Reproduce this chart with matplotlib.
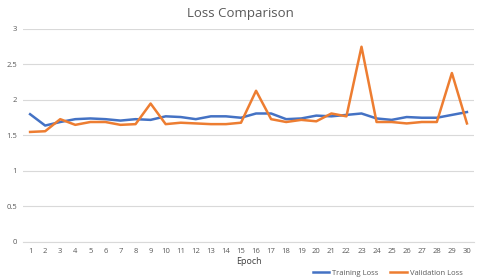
import numpy as np
import matplotlib.pyplot as plt

epochs = list(range(1, 31))
train_loss = [1.80, 1.64, 1.69, 1.73, 1.74, 1.73, 1.71, 1.73, 1.72, 1.77,
              1.76, 1.73, 1.77, 1.77, 1.75, 1.81, 1.81, 1.73, 1.74, 1.78,
              1.77, 1.79, 1.81, 1.74, 1.72, 1.76, 1.75, 1.75, 1.79, 1.83]
val_loss = [1.55, 1.56, 1.73, 1.65, 1.69, 1.69, 1.65, 1.66, 1.95, 1.66,
            1.68, 1.67, 1.66, 1.66, 1.68, 2.13, 1.73, 1.69, 1.72, 1.70,
            1.81, 1.77, 2.75, 1.69, 1.69, 1.67, 1.69, 1.69, 2.38, 1.67]
y_ticks = [0, 0.5, 1, 1.5, 2, 2.5, 3]
y_labels = ['0', '0.5', '1', '1.5', '2', '2.5', '3']

plt.rcParams['font.family'] = ['Open Sans', 'DejaVu Sans']

fig = plt.figure(figsize=(4.8, 2.78), dpi=100)
ax = fig.add_axes([0.047, 0.1295, 0.9415, 0.7662])

ax.plot(epochs, train_loss, color='#4472C4', lw=1.8, label='Training Loss', solid_joinstyle='round')
ax.plot(epochs, val_loss, color='#ED7D31', lw=1.8, label='Validation Loss', solid_joinstyle='round')

ax.set_xlim(0.5, 30.5)
ax.set_ylim(0, 3)
ax.set_xticks(epochs)
ax.set_xticklabels([str(e) for e in epochs])
ax.set_yticks(y_ticks)
ax.set_yticklabels(y_labels)
ax.tick_params(axis='both', length=0, labelsize=5.5, colors='#595959', pad=4)
ax.grid(axis='y', color='#D9D9D9', lw=0.8)
ax.set_axisbelow(True)
for s in ax.spines.values():
    s.set_visible(False)
ax.spines['bottom'].set_visible(True)
ax.spines['bottom'].set_color('#D9D9D9')

ax.set_xlabel('Epoch', fontsize=6.5, color='#404040', labelpad=2)
fig.text(0.5, 0.953, 'Loss Comparison', ha='center', va='center', fontsize=9.5, color='#595959')

fig.legend(loc='center', bbox_to_anchor=(0.808, 0.018), ncol=2, frameon=False,
           fontsize=5.5, handlelength=2.2, handletextpad=0.4, columnspacing=1.5,
           labelcolor='#595959')

fig.savefig('out.png', dpi=100)
